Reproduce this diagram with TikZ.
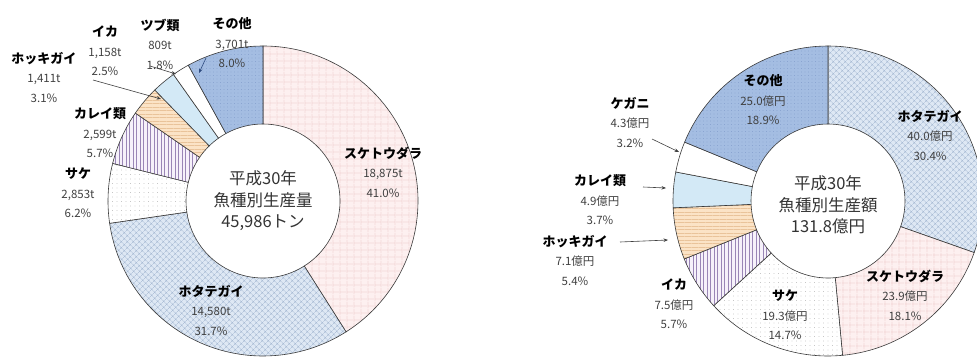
\documentclass[tikz,border=0pt]{standalone}
\usepackage{fontspec}
\setmainfont{Noto Sans CJK JP}
\usetikzlibrary{patterns.meta,arrows.meta}
\definecolor{edge}{HTML}{3A3A3A}
\definecolor{pinkbg}{HTML}{FDF0F0}
\definecolor{pinkln}{HTML}{E2AFAF}
\definecolor{scbg}{HTML}{DEE8F4}
\definecolor{scln}{HTML}{9FB3CF}
\definecolor{dotc}{HTML}{A8A8A8}
\definecolor{purbg}{HTML}{F6F1FA}
\definecolor{purln}{HTML}{9A86B6}
\definecolor{peachbg}{HTML}{FBE3C6}
\definecolor{peachln}{HTML}{E9C39A}
\definecolor{ltblue}{HTML}{D3E9F6}
\definecolor{othbg}{HTML}{A4BDE2}
\definecolor{othdot}{HTML}{7D98C8}
\definecolor{numgray}{HTML}{404040}
\definecolor{arrblue}{HTML}{2F4C80}
\newcommand\dslice[3]{\path[#3] (#1:155) arc[start angle=#1,end angle=#2,radius=155] -- (#2:77) arc[start angle=#2,end angle=#1,radius=77] -- cycle;}
\newcommand\nm[1]{{\color{black}\fontsize{13}{19}\selectfont\bfseries #1}}
\begin{document}
\begin{tikzpicture}[x=1pt,y=1pt,
  slc/.style={draw=edge,line width=0.6pt},
  sk/.style={slc,preaction={fill=pinkbg},
     preaction={pattern={Lines[angle=0,distance=6.5pt,line width=0.35pt]},pattern color=pinkln},
     preaction={pattern={Lines[angle=90,distance=6.5pt,line width=0.35pt]},pattern color=pinkln}},
  ho/.style={slc,preaction={fill=scbg},
     preaction={pattern={Hatch[angle=45,distance=4pt,line width=0.35pt]},pattern color=scln}},
  sa/.style={slc,preaction={fill=white},
     preaction={pattern={Dots[radius=0.45pt,distance=4.5pt]},pattern color=dotc}},
  pu/.style={slc,preaction={fill=purbg},
     preaction={pattern={Lines[angle=90,distance=3.5pt,line width=0.4pt]},pattern color=purln}},
  pe/.style={slc,preaction={fill=peachbg},
     preaction={pattern={Lines[angle=0,distance=3.5pt,line width=0.35pt]},pattern color=peachln}},
  lb/.style={slc,fill=ltblue},
  wh/.style={slc,fill=white},
  ot/.style={slc,preaction={fill=othbg},
     preaction={pattern={Dots[radius=0.45pt,distance=3.5pt]},pattern color=othdot}},
  lab/.style={align=center,font=\fontsize{11.5}{19.5}\selectfont,text=numgray,inner sep=0pt},
  ctr/.style={align=center,font=\fontsize{16.5}{21.5}\selectfont,text=black!80,inner sep=0pt},
  lead/.style={draw=black!75,line width=0.6pt,-{Stealth[length=4.5pt,width=3.5pt]}}]
\useasboundingbox (0,0) rectangle (977,-359);
\clip (0,0) rectangle (977,-359);
% ---------------- left donut
\coordinate (LC) at (263,-201);
\begin{scope}[shift={(LC)}]
\dslice{90}{-57.6}{sk}
\dslice{-57.6}{-171.72}{ho}
\dslice{-171.72}{-194.04}{sa}
\dslice{-194.04}{-214.56}{pu}
\dslice{-214.56}{-225.72}{pe}
\dslice{-225.72}{-234.72}{lb}
\dslice{-234.72}{-241.2}{wh}
\dslice{-241.2}{-270}{ot}
\end{scope}
\node[ctr] (lctr) at (263,-201) {平成30年\\魚種別生産量\\45,986トン};
\node[lab] (lsk) at (383,-172) {\nm{スケトウダラ}\\18,875t\\41.0\%};
\node[lab] (lho) at (211,-310) {\nm{ホタテガイ}\\14,580t\\31.7\%};
\node[lab] (lsa) at (78,-193) {\nm{サケ}\\2,853t\\6.2\%};
\node[lab] (lka) at (100,-133) {\nm{カレイ類}\\2,599t\\5.7\%};
\node[lab] (lhk) at (44,-77) {\nm{ホッキガイ}\\1,411t\\3.1\%};
\node[lab] (lik) at (105,-51) {\nm{イカ}\\1,158t\\2.5\%};
\node[lab] (ltb) at (160,-44) {\nm{ツブ類}\\809t\\1.8\%};
\node[lab] (lot) at (232,-43) {\nm{その他}\\3,701t\\8.0\%};
\coordinate (ika1) at (93,-80);
\coordinate (ika2) at (161,-99);
\draw[lead] (ika1) -- (ika2);
\coordinate (tb1) at (150,-66);
\coordinate (tb2) at (176,-74);
\draw[lead] (tb1) -- (tb2);
\coordinate (ot1) at (206,-58);
\coordinate (ot2) at (199,-73);
\draw[lead,draw=arrblue] (ot1) -- (ot2);
% ---------------- right donut
\coordinate (RC) at (828,-201);
\begin{scope}[shift={(RC)}]
\dslice{90}{-19.44}{ho}
\dslice{-19.44}{-84.6}{sk}
\dslice{-84.6}{-137.52}{sa}
\dslice{-137.52}{-158.04}{pu}
\dslice{-158.04}{-177.48}{pe}
\dslice{-177.48}{-190.8}{lb}
\dslice{-190.8}{-202.32}{wh}
\dslice{-202.32}{-270}{ot}
\end{scope}
\node[ctr] (rctr) at (828,-205) {平成30年\\魚種別生産額\\131.8億円};
\node[lab] (rot) at (763,-100) {\nm{その他}\\25.0億円\\18.9\%};
\node[lab] (rho) at (930,-135) {\nm{ホタテガイ}\\40.0億円\\30.4\%};
\node[lab] (rsk) at (905,-295) {\nm{スケトウダラ}\\23.9億円\\18.1\%};
\node[lab] (rsa) at (785,-315) {\nm{サケ}\\19.3億円\\14.7\%};
\node[lab] (rik) at (674,-304) {\nm{イカ}\\7.5億円\\5.7\%};
\node[lab] (rhk) at (575,-260) {\nm{ホッキガイ}\\7.1億円\\5.4\%};
\node[lab] (rka) at (600,-200) {\nm{カレイ類}\\4.9億円\\3.7\%};
\node[lab] (rkg) at (630,-122) {\nm{ケガニ}\\4.3億円\\3.2\%};
\coordinate (kg1) at (652,-139);
\coordinate (kg2) at (679,-152);
\draw[lead] (kg1) -- (kg2);
\coordinate (ka1) at (643,-187);
\coordinate (ka2) at (666,-188);
\draw[lead] (ka1) -- (ka2);
\coordinate (hk1) at (620,-242);
\coordinate (hk2) at (668,-240);
\draw[lead] (hk1) -- (hk2);
\end{tikzpicture}
\end{document}
